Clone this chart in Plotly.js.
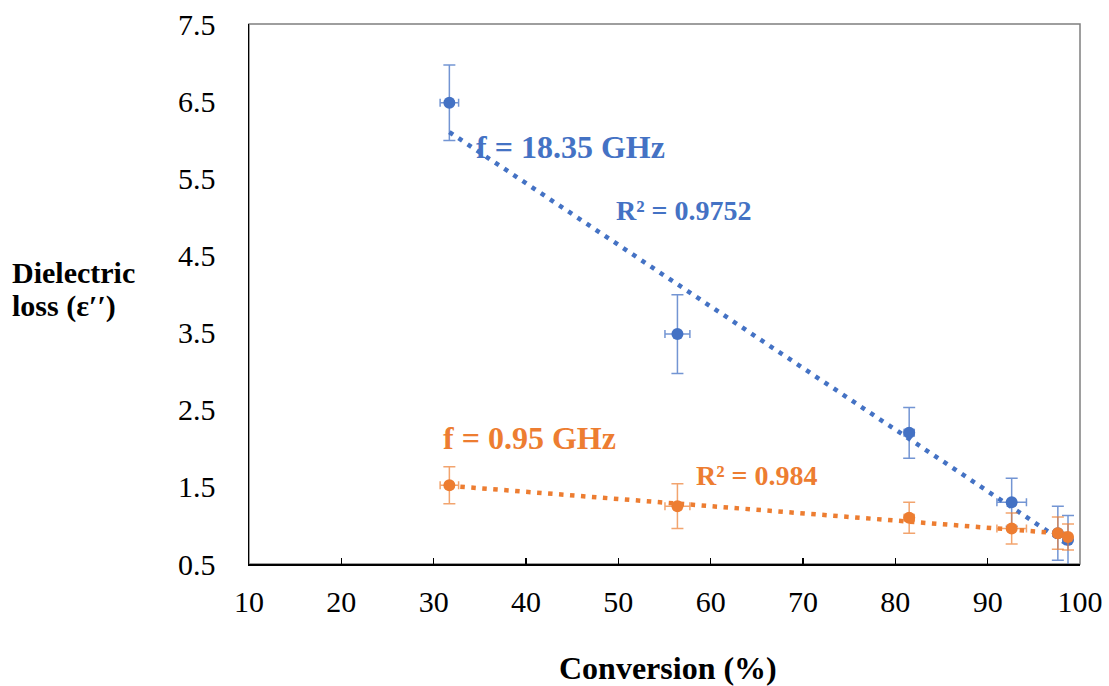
<!DOCTYPE html>
<html>
<head>
<meta charset="utf-8">
<script src="https://cdn.plot.ly/plotly-3.0.1.min.js"></script>
<style>html,body{margin:0;padding:0;background:#fff;}#chart{width:1109px;height:686px;}</style>
</head>
<body>
<div id="chart"></div>
<script>
// Data
const conversion = [31.7, 56.4, 81.5, 92.6, 97.6, 98.7];
const conversionErr = [1.0, 1.35, 0.55, 1.6, 0.3, 0.3];
const loss18GHz = [6.48, 3.48, 2.20, 1.30, 0.90, 0.81];
const loss18GHzErr = [0.49, 0.51, 0.33, 0.31, 0.35, 0.32];
const loss095GHz = [1.52, 1.25, 1.10, 0.96, 0.90, 0.85];
const loss095GHzErr = [0.24, 0.29, 0.20, 0.20, 0.21, 0.17];
const yTicks = [0.5, 1.5, 2.5, 3.5, 4.5, 5.5, 6.5, 7.5];
const xTicks = [10, 20, 30, 40, 50, 60, 70, 80, 90, 100];

const BLUE = '#4472C4', ORANGE = '#ED7D31';
const FONT = 'Liberation Serif';

function linfit(x, y) {
  const n = x.length;
  const mx = x.reduce((a, b) => a + b, 0) / n;
  const my = y.reduce((a, b) => a + b, 0) / n;
  let sxy = 0, sxx = 0;
  for (let i = 0; i < n; i++) { sxy += (x[i] - mx) * (y[i] - my); sxx += (x[i] - mx) ** 2; }
  const m = sxy / sxx, b = my - m * mx;
  const xs = [Math.min(...x), Math.max(...x)];
  return { x: xs, y: xs.map(v => m * v + b) };
}
const fitB = linfit(conversion, loss18GHz);
const fitO = linfit(conversion, loss095GHz);

const traces = [
  { x: fitB.x, y: fitB.y, mode: 'lines', line: { color: BLUE, width: 4.5, dash: '4.5px,6.5px' }, hoverinfo: 'skip', showlegend: false },
  { x: fitO.x, y: fitO.y, mode: 'lines', line: { color: ORANGE, width: 4.5, dash: '4.5px,6.5px' }, hoverinfo: 'skip', showlegend: false },
  { x: conversion, y: loss18GHz, mode: 'markers', marker: { color: BLUE, size: 12 },
    error_y: { type: 'data', array: loss18GHzErr, visible: true, color: 'rgba(68,114,196,0.75)', thickness: 1.5, width: 6 },
    error_x: { type: 'data', array: conversionErr, visible: true, color: 'rgba(68,114,196,0.75)', thickness: 1.5, width: 4 },
    showlegend: false },
  { x: conversion, y: loss095GHz, mode: 'markers', marker: { color: ORANGE, size: 12 },
    error_y: { type: 'data', array: loss095GHzErr, visible: true, color: 'rgba(237,125,49,0.7)', thickness: 1.5, width: 6 },
    error_x: { type: 'data', array: conversionErr, visible: true, color: 'rgba(237,125,49,0.7)', thickness: 1.5, width: 4 },
    showlegend: false }
];

const layout = {
  width: 1109, height: 686,
  margin: { l: 249, r: 29, t: 24, b: 122 },
  paper_bgcolor: '#fff', plot_bgcolor: '#fff',
  font: { family: FONT, color: '#000' },
  showlegend: false,
  xaxis: {
    range: [10, 100], tickvals: xTicks, ticktext: xTicks.map(String),
    showgrid: false, zeroline: false, showline: true, linecolor: '#000', linewidth: 1.5,
    ticks: 'inside', ticklen: 6, tickcolor: '#000', tickwidth: 1.2,
    tickfont: { family: FONT, size: 30, color: '#000' }, ticklabelstandoff: 10
  },
  yaxis: {
    range: [0.5, 7.5], tickvals: yTicks, ticktext: yTicks.map(v => v.toFixed(1)),
    showgrid: false, zeroline: false, showline: true, linecolor: '#000', linewidth: 1.5,
    ticks: '', tickfont: { family: FONT, size: 30, color: '#000' }, ticklabelstandoff: 26
  },
  shapes: [
    { type: 'rect', xref: 'paper', yref: 'paper', x0: 0, x1: 1, y0: 0, y1: 1, line: { color: '#7f7f7f', width: 1.5 }, layer: 'below' }
  ],
  annotations: [
    { text: '<b>f = 18.35 GHz</b>', x: 44.8, y: 5.9, xref: 'x', yref: 'y', showarrow: false, font: { family: FONT, size: 32, color: BLUE } },
    { text: '<b>R² = 0.9752</b>', x: 57.1, y: 5.08, xref: 'x', yref: 'y', showarrow: false, font: { family: FONT, size: 28, color: BLUE } },
    { text: '<b>f = 0.95 GHz</b>', x: 40.4, y: 2.13, xref: 'x', yref: 'y', showarrow: false, font: { family: FONT, size: 32, color: ORANGE } },
    { text: '<b>R² = 0.984</b>', x: 65.0, y: 1.65, xref: 'x', yref: 'y', showarrow: false, font: { family: FONT, size: 28, color: ORANGE } },
    { text: '<b>Dielectric</b>', x: -0.2876, y: 0.540, xref: 'paper', yref: 'paper', xanchor: 'left', yanchor: 'middle', showarrow: false, font: { family: FONT, size: 30, color: '#000' } },
    { text: '<b>loss (ε′′)</b>', x: -0.2876, y: 0.478, xref: 'paper', yref: 'paper', xanchor: 'left', yanchor: 'middle', showarrow: false, font: { family: FONT, size: 30, color: '#000' } },
    { text: '<b>Conversion (%)</b>', x: 0.504, y: -0.193, xref: 'paper', yref: 'paper', xanchor: 'center', yanchor: 'middle', showarrow: false, font: { family: FONT, size: 32, color: '#000' } }
  ]
};

Plotly.newPlot('chart', traces, layout, { displayModeBar: false, staticPlot: true });
</script>
</body>
</html>
